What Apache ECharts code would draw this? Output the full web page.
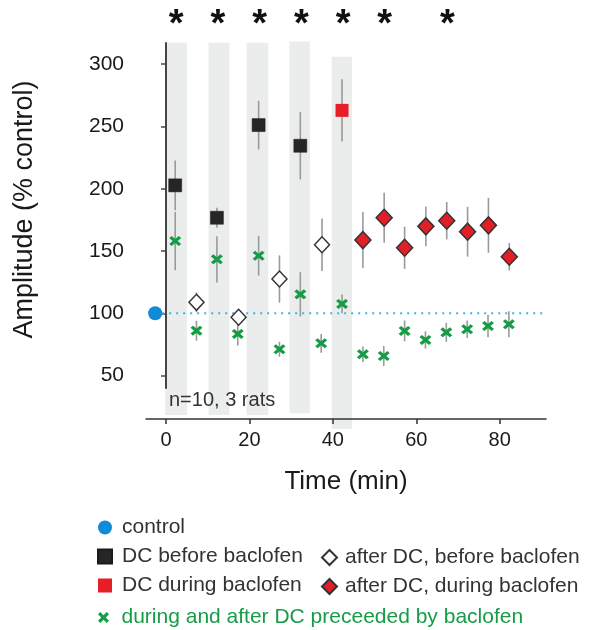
<!DOCTYPE html>
<html>
<head>
<meta charset="utf-8">
<script src="https://cdn.jsdelivr.net/npm/echarts@6/dist/echarts.min.js"></script>
<style>
html,body{margin:0;padding:0;background:#fff;}
#chart{width:597px;height:630px;}
</style>
</head>
<body>
<div id="chart"></div>
<script>
// ---- data ----
const timeTicks = [0, 20, 40, 60, 80];
const ampTicks = [50, 100, 150, 200, 250, 300];

const controlTime = [-2.6];
const controlAmp = [100];

const dcBeforeTime = [2.2, 12.2, 22.2, 32.2];
const dcBeforeAmp = [202.7, 176.7, 251.1, 234.5];
const dcBeforeErr = [20, 8, 19.5, 27];

const dcDuringTime = [42.2];
const dcDuringAmp = [262.9];
const dcDuringErr = [25];

const afterBeforeTime = [7.3, 17.4, 27.2, 37.4];
const afterBeforeAmp = [108.8, 96.8, 127.5, 155];
const afterBeforeErr = [8, 6, 19, 21];

const afterDuringTime = [47.2, 52.3, 57.2, 62.3, 67.3, 72.3, 77.3, 82.3];
const afterDuringAmp = [158.8, 176.7, 152.6, 169.8, 174.3, 165.5, 170.6, 145.4];
const afterDuringErr = [22.5, 20, 17, 16, 15, 20, 22, 11];

const baclofenTime = [2.2, 7.3, 12.2, 17.2, 22.2, 27.2, 32.2, 37.2, 42.2, 47.2, 52.2, 57.2, 62.2, 67.2, 72.2, 77.2, 82.2];
const baclofenAmp = [158, 86, 143.3, 83.4, 146.2, 71.1, 115.2, 75.9, 107.5, 67.1, 65.7, 85.8, 78.6, 84.7, 87.2, 89.8, 91.2];
const baclofenErr = [23.4, 8, 18.5, 9.4, 16, 6, 17.8, 7.5, 7.5, 6.3, 8, 8.4, 7, 7.6, 7, 9, 10.5];

// DC application periods (shaded)
const bandStart = [-0.2, 10.2, 19.3, 29.6, 39.7];
const bandEnd = [5.0, 15.2, 24.5, 34.5, 44.6];
const bandTop = [317.2, 317.2, 317.2, 318.3, 306];
const bandBottom = [18.4, 18.4, 18.4, 19.7, 7.1];

// significance marks
const sigTimes = [2.2, 12.2, 22.2, 32.2, 42.2, 52.2, 67.2];

const X_MIN = -4.8, X_MAX = 91.1, Y_MIN = 40, Y_MAX = 317;

const FONT = '"Liberation Sans", Arial, Helvetica, sans-serif';
const GREEN = '#169c47';
const XPATH = 'path://M0,2.5L2.5,0L6,3.5L9.5,0L12,2.5L8.5,6L12,9.5L9.5,12L6,8.5L2.5,12L0,9.5L3.5,6Z';

function pts(t, v) { return t.map((x, i) => [x, v[i]]); }
function errRows(t, v, e) { return t.map((x, i) => [x, v[i] - e[i], v[i] + e[i]]); }

const allErr = []
  .concat(errRows(dcBeforeTime, dcBeforeAmp, dcBeforeErr))
  .concat(errRows(dcDuringTime, dcDuringAmp, dcDuringErr))
  .concat(errRows(afterBeforeTime, afterBeforeAmp, afterBeforeErr))
  .concat(errRows(afterDuringTime, afterDuringAmp, afterDuringErr))
  .concat(errRows(baclofenTime, baclofenAmp, baclofenErr));

const bands = bandStart.map((s, i) => [s, bandEnd[i], bandTop[i], bandBottom[i]]);

const chart = echarts.init(document.getElementById('chart'), null, {renderer: 'canvas'});

const legendText = {fontSize: 21, color: '#333', fontFamily: FONT, padding: [0, 0, 0, 5]};

const option = {
  backgroundColor: '#ffffff',
  animation: false,
  textStyle: {fontFamily: FONT},
  grid: {left: 146, right: 51, top: 43, bottom: 242, containLabel: false, outerBoundsMode: 'none'},
  xAxis: {
    type: 'value', min: X_MIN, max: X_MAX, offset: 31,
    name: 'Time (min)', nameLocation: 'middle', nameGap: 50,
    nameTextStyle: {fontSize: 26, color: '#1a1a1a', fontFamily: FONT},
    axisLine: {show: true, lineStyle: {color: '#333', width: 1.5}},
    axisTick: {show: true, length: 5, lineStyle: {color: '#333', width: 1.5}, customValues: timeTicks},
    axisLabel: {fontSize: 20, color: '#1a1a1a', margin: 11, customValues: timeTicks, fontFamily: FONT},
    splitLine: {show: false}
  },
  yAxis: {
    type: 'value', min: Y_MIN, max: Y_MAX,
    name: 'Amplitude (% control)', nameLocation: 'middle', nameGap: 108,
    nameTextStyle: {fontSize: 27, color: '#1a1a1a', fontFamily: FONT, padding: [0, 0, 0, 12]},
    axisLine: {show: true, lineStyle: {color: '#444', width: 2}},
    axisTick: {show: true, length: 5, lineStyle: {color: '#444', width: 1.5}, customValues: ampTicks},
    axisLabel: {fontSize: 21, color: '#1a1a1a', margin: 22, customValues: ampTicks, fontFamily: FONT},
    splitLine: {show: false}
  },
  legend: [
    {
      orient: 'vertical', left: 92, top: 512, itemWidth: 14, itemHeight: 14, itemGap: 8,
      textStyle: legendText,
      data: ['control', 'DC before baclofen', 'DC during baclofen']
    },
    {
      orient: 'vertical', left: 316, top: 542, itemWidth: 15, itemHeight: 15, itemGap: 8,
      textStyle: Object.assign({}, legendText, {padding: [0, 0, 0, 3]}),
      data: ['after DC, before baclofen', 'after DC, during baclofen']
    },
    {
      orient: 'vertical', left: 93, top: 602, itemWidth: 12, itemHeight: 11,
      textStyle: Object.assign({}, legendText, {color: GREEN, padding: [0, 0, 0, 7]}),
      data: ['during and after DC preceeded by baclofen']
    }
  ],
  graphic: [
    {type: 'text', left: 169, top: 390, z: 100, style: {text: 'n=10, 3 rats', fontSize: 20, fill: '#333', fontFamily: FONT}}
  ],
  series: [
    {
      type: 'custom', name: 'bands', silent: true, clip: false, z: 0,
      data: bands,
      renderItem: function (params, api) {
        const p1 = api.coord([api.value(0), api.value(2)]);
        const p2 = api.coord([api.value(1), api.value(3)]);
        return {type: 'rect', shape: {x: p1[0], y: p1[1], width: p2[0] - p1[0], height: p2[1] - p1[1]},
                style: {fill: '#ebecec'}};
      }
    },
    {
      type: 'line', name: 'ref', silent: true, symbol: 'none', z: 1,
      data: [[controlTime[0], controlAmp[0]], [X_MAX, controlAmp[0]]],
      lineStyle: {color: '#3cb3ea', width: 2, type: [2, 5]}
    },
    {
      type: 'custom', name: 'errors', silent: true, clip: false, z: 2,
      data: allErr,
      renderItem: function (params, api) {
        const a = api.coord([api.value(0), api.value(1)]);
        const b = api.coord([api.value(0), api.value(2)]);
        return {type: 'line', shape: {x1: a[0], y1: a[1], x2: b[0], y2: b[1]},
                style: {stroke: '#9a9a9a', lineWidth: 1.6}};
      }
    },
    {
      type: 'custom', name: 'sig', silent: true, clip: false, z: 5,
      data: sigTimes.map(t => [t]),
      renderItem: function (params, api) {
        const p = api.coord([api.value(0), Y_MAX]);
        return {type: 'text', x: p[0] + 1, y: 7,
                style: {text: '*', fontSize: 38, fontWeight: 'bold', fill: '#111', align: 'center', verticalAlign: 'top', fontFamily: FONT}};
      }
    },
    {
      type: 'scatter', name: 'control', z: 10, symbol: 'circle', symbolSize: 14,
      data: pts(controlTime, controlAmp), itemStyle: {color: '#0f8bd8', opacity: 1}
    },
    {
      type: 'scatter', name: 'DC before baclofen', z: 10, symbol: 'rect', symbolSize: 13,
      data: pts(dcBeforeTime, dcBeforeAmp), itemStyle: {color: '#262626', borderColor: '#1a1a1a', borderWidth: 0.5, opacity: 1}
    },
    {
      type: 'scatter', name: 'DC during baclofen', z: 10, symbol: 'rect', symbolSize: 13,
      data: pts(dcDuringTime, dcDuringAmp), itemStyle: {color: '#e61e28', opacity: 1}
    },
    {
      type: 'scatter', name: 'after DC, before baclofen', z: 10, symbol: 'diamond', symbolSize: [15, 16],
      data: pts(afterBeforeTime, afterBeforeAmp), itemStyle: {color: '#ffffff', borderColor: '#333', borderWidth: 1.5, opacity: 1}
    },
    {
      type: 'scatter', name: 'after DC, during baclofen', z: 10, symbol: 'diamond', symbolSize: [16, 17],
      data: pts(afterDuringTime, afterDuringAmp), itemStyle: {color: '#e21f26', borderColor: '#333', borderWidth: 1.5, opacity: 1}
    },
    {
      type: 'scatter', name: 'during and after DC preceeded by baclofen', z: 10, symbol: XPATH, symbolSize: [12, 10],
      data: pts(baclofenTime, baclofenAmp), itemStyle: {color: GREEN, opacity: 1}
    }
  ]
};
chart.setOption(option);
</script>
</body>
</html>
